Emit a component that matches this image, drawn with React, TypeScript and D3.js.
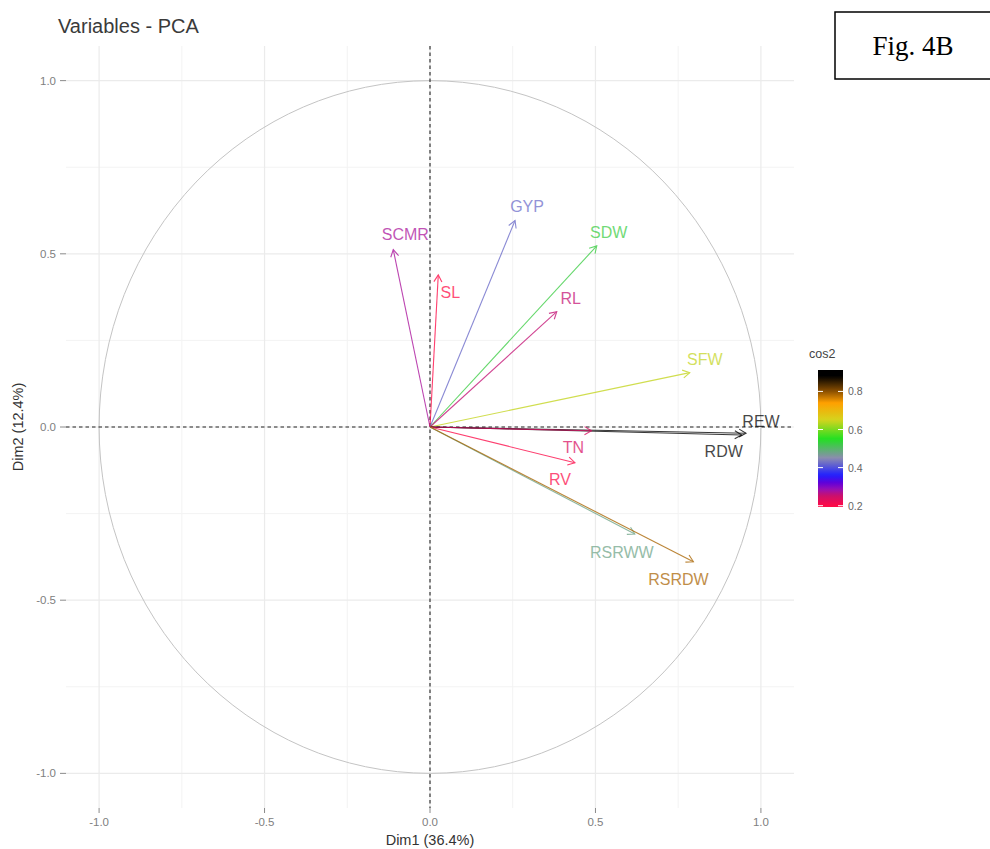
import React from "react";
import * as d3 from "d3";

// PCA variable loadings on the first two dimensions
const variables = ["SCMR", "SL", "GYP", "SDW", "RL", "SFW", "REW", "RDW", "TN", "RV", "RSRWW", "RSRDW"];
const dim1 = [-0.111, 0.025, 0.257, 0.504, 0.383, 0.785, 0.955, 0.942, 0.488, 0.438, 0.619, 0.796];
const dim2 = [0.512, 0.439, 0.596, 0.523, 0.333, 0.157, -0.018, -0.023, -0.011, -0.103, -0.309, -0.389];

// label placement relative to the arrow tip (px)
const labelDx = [12, 12, 12, 12, 14, 15, 15, -18, -18, -15, -13, -15];
const labelDy = [-15, 18, -14, -13, -13, -13, -12, 17, 17, 17, 18, 18];

const axisTicks = [-1, -0.5, 0, 0.5, 1];
const minorTicks = [-0.75, -0.25, 0.25, 0.75];
const legendTicks = [0.2, 0.4, 0.6, 0.8];

// cos2 colour gradient
const cos2Stops = [0.2, 0.255, 0.285, 0.32, 0.36, 0.45, 0.55, 0.65, 0.74, 0.8, 0.88];
const cos2Colors = ["#ff0a46", "#c8106e", "#9a10b4", "#6000d8", "#2020ff", "#8c8cb0", "#22e022", "#d4d41e", "#ffa000", "#8c5000", "#000000"];

const FONT = "'Liberation Sans', Arial, sans-serif";
const fmt = (v: number) => v.toFixed(1);

export default function App() {
  const W = 990;
  const H = 849;
  const x = d3.scaleLinear().domain([-1.1, 1.1]).range([66, 794]);
  const y = d3.scaleLinear().domain([-1.1, 1.1]).range([808, 46]);
  const color = d3
    .scaleLinear<string>()
    .domain(cos2Stops)
    .range(cos2Colors)
    .interpolate(d3.interpolateRgb)
    .clamp(true);

  const rows = variables.map((name, i) => ({
    name,
    d1: dim1[i],
    d2: dim2[i],
    cos2: dim1[i] * dim1[i] + dim2[i] * dim2[i],
    dx: labelDx[i],
    dy: labelDy[i],
  }));
  const [cMin, cMax] = d3.extent(rows, (r) => r.cos2) as [number, number];

  const legendY = d3.scaleLinear().domain([cMin, cMax]).range([507, 370]);
  const legX0 = 818;
  const legW = 25;
  const gradStops = d3.range(0, 1.0001, 0.02).map((t) => {
    const v = cMin + t * (cMax - cMin);
    return { offset: `${(t * 100).toFixed(1)}%`, color: color(v) };
  });

  const ox = x(0);
  const oy = y(0);
  const headLen = 8;
  const headAng = Math.PI / 6;

  const [px0, px1] = x.range();
  const [py1, py0] = y.range();

  return (
    <svg
      width={W}
      height={H}
      style={{ position: "absolute", left: 0, top: 0, background: "#fff" }}
      fontFamily={FONT}
    >
      <defs>
        <linearGradient id="cos2grad" x1="0" y1="1" x2="0" y2="0">
          {gradStops.map((s, i) => (
            <stop key={i} offset={s.offset} stopColor={s.color} />
          ))}
        </linearGradient>
      </defs>

      {/* grid */}
      {minorTicks.map((t) => (
        <g key={`m${t}`}>
          <line x1={x(t)} x2={x(t)} y1={py0} y2={py1} stroke="#f3f3f3" strokeWidth={1} />
          <line x1={px0} x2={px1} y1={y(t)} y2={y(t)} stroke="#f3f3f3" strokeWidth={1} />
        </g>
      ))}
      {axisTicks.map((t) => (
        <g key={`M${t}`}>
          <line x1={x(t)} x2={x(t)} y1={py0} y2={py1} stroke="#ebebeb" strokeWidth={1.2} />
          <line x1={px0} x2={px1} y1={y(t)} y2={y(t)} stroke="#ebebeb" strokeWidth={1.2} />
        </g>
      ))}

      {/* correlation circle */}
      <ellipse
        cx={ox}
        cy={oy}
        rx={x(1) - x(0)}
        ry={y(0) - y(1)}
        fill="none"
        stroke="#c4c4c4"
        strokeWidth={1}
      />

      {/* reference axes */}
      <line x1={ox} x2={ox} y1={py0} y2={py1} stroke="#222" strokeWidth={1.1} strokeDasharray="3.5,3" />
      <line x1={px0} x2={px1} y1={oy} y2={oy} stroke="#222" strokeWidth={1.1} strokeDasharray="3.5,3" />

      {/* loadings */}
      {rows.map((r) => {
        const tx = x(r.d1);
        const ty = y(r.d2);
        const a = Math.atan2(ty - oy, tx - ox);
        const h1x = tx - headLen * Math.cos(a - headAng);
        const h1y = ty - headLen * Math.sin(a - headAng);
        const h2x = tx - headLen * Math.cos(a + headAng);
        const h2y = ty - headLen * Math.sin(a + headAng);
        const c = color(r.cos2);
        return (
          <g key={r.name} opacity={0.78}>
            <line x1={ox} y1={oy} x2={tx} y2={ty} stroke={c} strokeWidth={1.1} />
            <path
              d={`M${h1x},${h1y}L${tx},${ty}L${h2x},${h2y}`}
              fill="none"
              stroke={c}
              strokeWidth={1.1}
            />
          </g>
        );
      })}
      {rows.map((r) => (
        <text
          key={`t${r.name}`}
          x={x(r.d1) + r.dx}
          y={y(r.d2) + r.dy}
          textAnchor="middle"
          dominantBaseline="central"
          fontSize={16}
          fill={color(r.cos2)}
          opacity={0.72}
        >
          {r.name}
        </text>
      ))}

      {/* y axis */}
      {axisTicks.map((t) => (
        <g key={`yt${t}`}>
          <line x1={60} x2={66} y1={y(t)} y2={y(t)} stroke="#8a8a8a" strokeWidth={1} />
          <text
            x={56}
            y={y(t)}
            textAnchor="end"
            dominantBaseline="central"
            fontSize={11.5}
            fill="#808080"
          >
            {fmt(t)}
          </text>
        </g>
      ))}
      {/* x axis */}
      {axisTicks.map((t) => (
        <g key={`xt${t}`}>
          <line x1={x(t)} x2={x(t)} y1={808} y2={813} stroke="#8a8a8a" strokeWidth={1} />
          <text
            x={x(t)}
            y={822}
            textAnchor="middle"
            dominantBaseline="central"
            fontSize={11.5}
            fill="#808080"
          >
            {fmt(t)}
          </text>
        </g>
      ))}

      <text x={ox} y={845} textAnchor="middle" fontSize={14.5} fill="#333">
        Dim1 (36.4%)
      </text>
      <text
        transform={`translate(23,${oy}) rotate(-90)`}
        textAnchor="middle"
        fontSize={14.5}
        fill="#333"
      >
        Dim2 (12.4%)
      </text>

      <text x={58} y={33} fontSize={20} fill="#3a3a3a">
        Variables - PCA
      </text>

      {/* cos2 legend */}
      <text x={legX0 - 9} y={358} fontSize={12.5} fill="#444">
        cos2
      </text>
      <rect
        x={legX0}
        y={legendY(cMax)}
        width={legW}
        height={legendY(cMin) - legendY(cMax)}
        fill="url(#cos2grad)"
      />
      {legendTicks.map((t) => (
        <g key={`lt${t}`}>
          <line x1={legX0} x2={legX0 + 5} y1={legendY(t)} y2={legendY(t)} stroke="#fff" strokeWidth={1} />
          <line x1={legX0 + legW - 5} x2={legX0 + legW} y1={legendY(t)} y2={legendY(t)} stroke="#fff" strokeWidth={1} />
          <text
            x={legX0 + legW + 5}
            y={legendY(t)}
            dominantBaseline="central"
            fontSize={10.5}
            fill="#666"
          >
            {fmt(t)}
          </text>
        </g>
      ))}

      {/* figure tag */}
      <rect x={835} y={12} width={170} height={67} fill="#fff" stroke="#000" strokeWidth={1.5} />
      <text
        x={913}
        y={46}
        textAnchor="middle"
        dominantBaseline="central"
        fontSize={27}
        fontFamily="'Liberation Serif', 'Times New Roman', serif"
        fill="#000"
      >
        Fig. 4B
      </text>
    </svg>
  );
}
